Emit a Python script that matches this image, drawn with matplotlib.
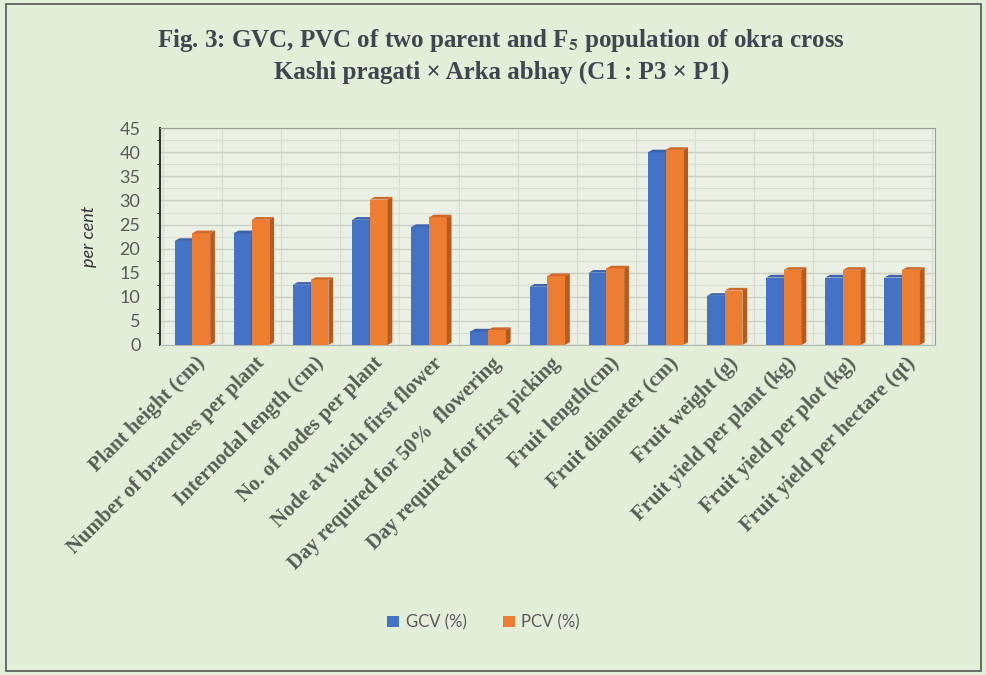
import matplotlib
matplotlib.use("Agg")
import matplotlib.pyplot as plt
from matplotlib.patches import Polygon, Rectangle
from matplotlib.ticker import MultipleLocator
import numpy as np

categories = ["Plant height (cm)", "Number of branches per plant", "Internodal length (cm)",
              "No. of nodes per plant", "Node at which first flower",
              "Day required for 50%  flowering", "Day required for first picking",
              "Fruit length(cm)", "Fruit diameter (cm)", "Fruit weight (g)",
              "Fruit yield per plant (kg)", "Fruit yield per plot (kg)",
              "Fruit yield per hectare (qt)"]
gcv = [21.6, 23.2, 12.5, 26.0, 24.5, 2.8, 12.1, 15.0, 40.0, 10.2, 14.0, 14.0, 14.0]
pcv = [23.2, 26.0, 13.5, 30.2, 26.5, 3.1, 14.3, 15.9, 40.5, 11.3, 15.6, 15.6, 15.6]
yticks = [0, 5, 10, 15, 20, 25, 30, 35, 40, 45]
series_names = ["GCV (%)", "PCV (%)"]

plt.rcParams['mathtext.fontset'] = 'stix'

fig = plt.figure(figsize=(9.87, 6.75), dpi=100)
fig.patch.set_facecolor("#e3eed9")
fig.patches.append(Rectangle((0.006, 0.006), 0.988, 0.988, transform=fig.transFigure,
                             fill=False, edgecolor="#555555", linewidth=1.2))

ax = fig.add_axes([0.162, 0.489, 0.785, 0.321])
ax.set_facecolor("#eaf1e4")

x = np.arange(len(categories))
w = 0.30
blue, blue_d, blue_t = "#4472c4", "#2f5597", "#3a62ad"
orange, orange_d, orange_t = "#ed7d31", "#b85a1c", "#d0692a"
ddx, ddy = 0.08, 0.55

def bars3d(lefts, vals, face, side, top, label):
    ax.bar(lefts, vals, width=w, align="edge", color=face, zorder=3, label=label)
    for l, v in zip(lefts, vals):
        r = l + w
        ax.add_patch(Polygon([(r, 0), (r + ddx, ddy), (r + ddx, v + ddy), (r, v)],
                             closed=True, facecolor=side, edgecolor="none", zorder=3))
        ax.add_patch(Polygon([(l, v), (l + ddx, v + ddy), (r + ddx, v + ddy), (r, v)],
                             closed=True, facecolor=top, edgecolor="none", zorder=3))

bars3d(x - w, gcv, blue, blue_d, blue_t, series_names[0])
bars3d(x, pcv, orange, orange_d, orange_t, series_names[1])

ax.set_xlim(-0.55, len(categories) - 0.45)
ax.set_ylim(0, 45)
ax.set_yticks(yticks)
ax.yaxis.set_minor_locator(MultipleLocator(2.5))
ax.grid(axis="y", which="major", color="#c9cfc4", linewidth=1.0, zorder=0)
ax.grid(axis="y", which="minor", color="#d9ded4", linewidth=0.8, zorder=0)
for xv in np.arange(-0.5, len(categories), 1.0):
    ax.axvline(xv, color="#d6dcd1", linewidth=0.8, zorder=0)

for s in ["top", "right"]:
    ax.spines[s].set_color("#9aa096")
    ax.spines[s].set_linewidth(0.8)
ax.spines["bottom"].set_color("#b5bab0")
ax.spines["left"].set_color("#333333")
ax.spines["left"].set_linewidth(1.5)

ax.tick_params(axis="y", length=0, pad=14, labelsize=13, labelcolor="#595959")
ax.tick_params(axis="x", length=0, pad=6)
for t in ax.get_yticklabels():
    t.set_fontfamily("Lato")

ax.set_xticks(x + 0.05)
ax.set_xticklabels(categories, rotation=45, ha="right", va="top",
                   rotation_mode="anchor", fontsize=15, fontweight="bold",
                   fontfamily="Liberation Serif", color="#555e55")

ax.set_ylabel("per cent", fontsize=13, fontstyle="italic", color="#333333",
              fontfamily="Lato", labelpad=16)

fig.text(0.508, 0.94, r"Fig. 3: GVC, PVC of two parent and F$_\mathbf{5}$ population of okra cross",
         ha="center", va="center", fontsize=18, fontweight="bold",
         fontfamily="Liberation Serif", color="#3f464f")
fig.text(0.508, 0.893, "Kashi pragati × Arka abhay (C1 : P3 × P1)",
         ha="center", va="center", fontsize=18, fontweight="bold",
         fontfamily="Liberation Serif", color="#3f464f")

leg = fig.legend(loc="center", bbox_to_anchor=(0.49, 0.078), ncol=2, frameon=False,
                 handlelength=0.7, handleheight=0.7, columnspacing=2.2, handletextpad=0.4,
                 prop={"family": "Lato", "size": 12})
for t in leg.get_texts():
    t.set_color("#595959")

fig.savefig("out.png", dpi=100, facecolor=fig.get_facecolor())
